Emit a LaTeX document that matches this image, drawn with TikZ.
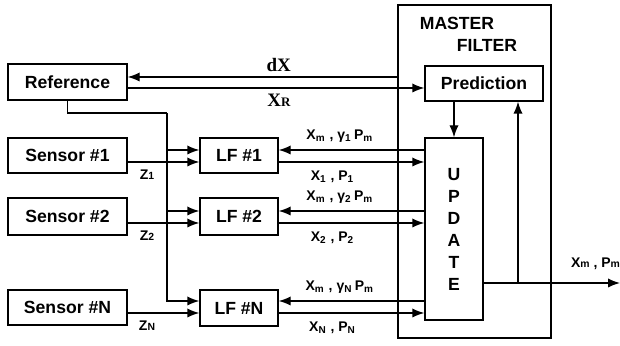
\documentclass[tikz,border=0pt]{standalone}
\usepackage{fontspec}
\setmainfont{Liberation Sans}
\newfontfamily\serifbf{Liberation Serif}
\usetikzlibrary{arrows.meta,positioning}

\tikzset{
  txt/.style={font=\bfseries\fontsize{8.8}{11}\selectfont,inner sep=0pt},
  blk/.style={txt,draw,line width=0.65pt},
  sig/.style={line width=0.65pt,-{Latex[length=6pt,width=4.6pt]}},
  wire/.style={line width=0.65pt},
  lbl/.style={font=\bfseries\fontsize{7}{8}\selectfont,inner sep=1.5pt},
  serlbl/.style={font=\serifbf\bfseries\fontsize{9.5}{10}\selectfont,inner sep=1.5pt},
}
\newcommand{\lo}[1]{{\fontsize{5.2}{6}\selectfont #1}}

\begin{document}
\begin{tikzpicture}[x=0.5pt,y=-0.5pt]
  \useasboundingbox (0,0) rectangle (620,346);
  % master filter
  \node[blk,minimum width=76.5pt,minimum height=166.5pt] (master) at (474.5,171.5) {};
  \node[txt] (mtop) at (457,23) {MASTER};
  \node[txt] (mbot) at (487,45) {FILTER};
  \node[blk,minimum width=59pt,minimum height=17.5pt] (pred) at (484,83.5) {Prediction};
  \node[blk,minimum width=29pt,minimum height=91pt,align=center] (upd) at (454,229) {U\\P\\D\\A\\T\\E};
  % left column
  \node[blk,minimum width=59.5pt,minimum height=18pt] (ref) at (67.5,82) {Reference};
  \node[blk,minimum width=59.5pt,minimum height=17.5pt] (s1) at (67.5,155.5) {Sensor \#1};
  \node[blk,minimum width=59.5pt,minimum height=18.5pt] (s2) at (67.5,216.5) {Sensor \#2};
  \node[blk,minimum width=59.5pt,minimum height=17.5pt] (sN) at (67.5,307.5) {Sensor \#N};
  % local filters
  \node[blk,minimum width=39pt,minimum height=17.5pt] (lf1) at (239,155.5) {LF \#1};
  \node[blk,minimum width=39pt,minimum height=18.5pt] (lf2) at (239,216.5) {LF \#2};
  \node[blk,minimum width=39pt,minimum height=18pt] (lfN) at (239,308) {LF \#N};

  % reference <-> master filter
  \draw[sig] (master.west |- 0,77) -- (ref.east |- 0,77) node[serlbl,pos=0.44,above=1pt] {dX};
  \draw[sig] (ref.east |- 0,88) -- (pred.west |- 0,88) node[serlbl,pos=0.51,below=1pt] {X{\fontsize{6.5}{7}\selectfont R}};

  % reference to local filters
  \coordinate (bus) at (167,113);
  \draw[wire] (ref.south) |- (bus);
  \draw[sig] (bus) |- (lfN.west |- 0,301);
  \draw[sig] (bus |- 0,150) -- (lf1.west |- 0,150);
  \draw[sig] (bus |- 0,211) -- (lf2.west |- 0,211);

  % sensors
  \draw[sig] (s1.east |- 0,162) -- (lf1.west |- 0,162) node[lbl,pos=0.27,below=2pt] {Z\lo{1}};
  \draw[sig] (s2.east |- 0,223) -- (lf2.west |- 0,223) node[lbl,pos=0.27,below=2pt] {Z\lo{2}};
  \draw[sig] (sN.east |- 0,313) -- (lfN.west |- 0,313) node[lbl,pos=0.27,below=2pt] {Z\lo{N}};

  % local filters <-> update
  \foreach \lf/\ya/\yb/\k in {lf1/150/162/1, lf2/211/223/2, lfN/301/313/N}{
    \draw[sig] (upd.west |- 0,\ya) -- (\lf.east |- 0,\ya)
      node[lbl,pos=0.58,above=2pt] {X\textsubscript{m} , γ\textsubscript{\k}\,P\textsubscript{m}};
    \draw[sig] (\lf.east |- 0,\yb) -- (upd.west |- 0,\yb)
      node[lbl,pos=0.37,below=2.5pt] {X\textsubscript{\k} , P\textsubscript{\k}};
  }

  % inside master filter
  \draw[sig] (pred.south -| upd.north) -- (upd.north);
  \coordinate (tap) at (518,283);
  \coordinate (out) at (620,283);
  \draw[sig] (upd.east |- tap) -- (out) node[lbl,pos=0.82,above=5pt] {X\lo{m} , P\lo{m}};
  \draw[sig] (tap) -- (tap |- pred.south);
\end{tikzpicture}
\end{document}
